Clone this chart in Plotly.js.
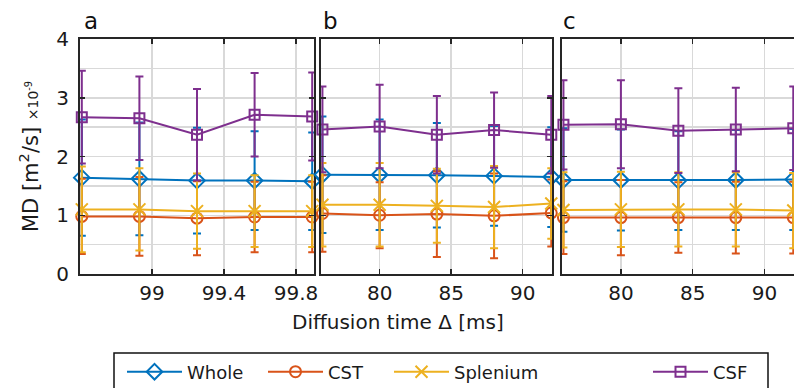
<!DOCTYPE html>
<html><head><meta charset="utf-8">
<script src="https://cdn.plot.ly/plotly-3.0.1.min.js"></script>
<style>html,body{margin:0;padding:0;background:#fff}</style>
</head><body><div id="chart" style="width:794px;height:388px"></div>
<script>
// ---- data ----
const seriesNames = ['Whole', 'CST', 'Splenium', 'CSF'];
const panelLabels = ['a', 'b', 'c'];

const deltaA = [98.61, 98.93, 99.25, 99.57, 99.89];
const deltaB = [76, 80, 84, 88, 92];
const deltaC = [76, 80, 84, 88, 92];

const tickValsA = [99, 99.4, 99.8];
const tickTextA = ['99', '99.4', '99.8'];
const tickValsBC = [80, 85, 90];
const tickTextBC = ['80', '85', '90'];

const wholeMeanA = [1.64, 1.62, 1.59, 1.59, 1.58];
const wholeSdA   = [0.99, 0.96, 0.90, 0.84, 0.83];
const wholeMeanB = [1.69, 1.69, 1.68, 1.67, 1.65];
const wholeSdB   = [0.99, 0.94, 0.89, 0.85, 0.85];
const wholeMeanC = [1.60, 1.60, 1.59, 1.60, 1.61];
const wholeSdC   = [0.88, 0.86, 0.84, 0.85, 0.86];

const cstMeanA = [0.98, 0.98, 0.95, 0.97, 0.97];
const cstSdA   = [0.64, 0.67, 0.63, 0.60, 0.60];
const cstMeanB = [1.03, 1.00, 1.02, 0.99, 1.04];
const cstSdB   = [0.65, 0.56, 0.73, 0.72, 0.57];
const cstMeanC = [0.96, 0.96, 0.96, 0.96, 0.96];
const cstSdC   = [0.62, 0.64, 0.60, 0.61, 0.61];

const splMeanA = [1.10, 1.10, 1.07, 1.07, 1.07];
const splSdA   = [0.73, 0.70, 0.64, 0.61, 0.61];
const splMeanB = [1.18, 1.18, 1.16, 1.14, 1.20];
const splSdB   = [0.71, 0.71, 0.63, 0.70, 0.60];
const splMeanC = [1.09, 1.10, 1.10, 1.10, 1.08];
const splSdC   = [0.64, 0.64, 0.63, 0.63, 0.64];

const csfMeanA = [2.67, 2.65, 2.37, 2.71, 2.68];
const csfSdA   = [0.79, 0.71, 0.78, 0.71, 0.75];
const csfMeanB = [2.46, 2.51, 2.37, 2.45, 2.37];
const csfSdB   = [0.73, 0.71, 0.66, 0.64, 0.66];
const csfMeanC = [2.54, 2.55, 2.44, 2.46, 2.48];
const csfSdC   = [0.76, 0.75, 0.72, 0.71, 0.71];

// ---- styling ----
const colors = ['#0072BD', '#D95319', '#EDB120', '#7E2F8E'];
const symbols = ['diamond-open', 'circle-open', 'x-thin-open', 'square-open'];
const markerSizes = [12, 11, 12, 10];

const deltas = [deltaA, deltaB, deltaC];
const means = [
  [wholeMeanA, wholeMeanB, wholeMeanC],
  [cstMeanA, cstMeanB, cstMeanC],
  [splMeanA, splMeanB, splMeanC],
  [csfMeanA, csfMeanB, csfMeanC]
];
const sds = [
  [wholeSdA, wholeSdB, wholeSdC],
  [cstSdA, cstSdB, cstSdC],
  [splSdA, splSdB, splSdC],
  [csfSdA, csfSdB, csfSdC]
];

const traces = [];
for (let p = 0; p < 3; p++) {
  for (let s = 0; s < 4; s++) {
    traces.push({
      type: 'scatter', mode: 'lines+markers',
      name: seriesNames[s],
      x: deltas[p], y: means[s][p],
      xaxis: p === 0 ? 'x' : 'x' + (p + 1),
      yaxis: p === 0 ? 'y' : 'y' + (p + 1),
      line: {color: colors[s], width: 2},
      marker: {symbol: symbols[s], size: markerSizes[s], color: colors[s], line: {color: colors[s], width: 2}},
      error_y: {type: 'data', array: sds[s][p], visible: true, color: colors[s], thickness: 2, width: 4},
      cliponaxis: false,
      showlegend: p === 0,
      legend: s === 0 ? 'legend' : 'legend' + (s + 1)
    });
  }
}

const W = 794, H = 388, L = 80, R = 0, T = 39, B = 114;
const pw = W - L - R, ph = H - T - B;
const px = v => (v - L) / pw;
const py = v => (H - B - v) / ph;

const axisLine = '#262626';
const gridCol = '#d9d9d9';
const font = 'DejaVu Sans, Arial, sans-serif';

function xax(domain, range, tv, tt) {
  return {
    domain: domain, range: range, tickvals: tv, ticktext: tt,
    showline: true, linecolor: axisLine, linewidth: 2, mirror: 'ticks',
    ticks: 'inside', ticklen: 5, tickwidth: 1.5, tickcolor: axisLine,
    showgrid: true, gridcolor: gridCol, gridwidth: 1.5, zeroline: false,
    tickfont: {size: 20, color: '#1a1a1a', family: font}
  };
}
function yax(anchor, labels, mirror) {
  return {
    anchor: anchor, range: [0, 4], tickvals: [0, 1, 2, 3, 4], showticklabels: labels,
    showline: true, linecolor: axisLine, linewidth: 2, mirror: mirror,
    ticks: 'inside', ticklen: 5, tickwidth: 1.5, tickcolor: axisLine,
    ticklabelstandoff: 5,
    showgrid: true, gridcolor: gridCol, gridwidth: 1.5, zeroline: false,
    minor: {dtick: 0.5, tick0: 0, showgrid: true, gridcolor: gridCol, gridwidth: 1.5, ticks: ''},
    tickfont: {size: 20, color: '#1a1a1a', family: font}
  };
}

const legendBase = {
  xref: 'container', yref: 'container', xanchor: 'left', yanchor: 'middle',
  y: 1 - 372 / H, orientation: 'h', bgcolor: 'rgba(0,0,0,0)', borderwidth: 0,
  itemwidth: 55,
  font: {size: 18, color: '#1a1a1a', family: font}
};

const layout = {
  width: W, height: H,
  margin: {l: L, r: R, t: T, b: B, pad: 0},
  paper_bgcolor: '#ffffff', plot_bgcolor: '#ffffff',
  font: {family: font, color: '#1a1a1a'},
  xaxis: xax([px(80), px(314)], [98.6, 99.9], tickValsA, tickTextA),
  xaxis2: xax([px(321), px(552)], [75.9, 92.05], tickValsBC, tickTextBC),
  xaxis3: xax([px(562), 1], [75.9, 92.05], tickValsBC, tickTextBC),
  yaxis: Object.assign(yax('x', true, 'ticks'), {
    title: {text: 'MD [m<sup>2</sup>/s] <span style="font-size:14px">×10<sup>-9</sup></span>',
            font: {size: 21, color: '#1a1a1a', family: font}, standoff: 12}
  }),
  yaxis2: yax('x2', false, 'ticks'),
  yaxis3: yax('x3', false, false),
  legend: Object.assign({}, legendBase, {x: 122 / W}),
  legend2: Object.assign({}, legendBase, {x: 263 / W}),
  legend3: Object.assign({}, legendBase, {x: 389 / W}),
  legend4: Object.assign({}, legendBase, {x: 648 / W}),
  annotations: [
    {text: panelLabels[0], xref: 'paper', yref: 'paper', x: px(82), y: py(21), xanchor: 'left', yanchor: 'middle', showarrow: false, font: {size: 23, family: font, color: '#111'}},
    {text: panelLabels[1], xref: 'paper', yref: 'paper', x: px(321), y: py(21), xanchor: 'left', yanchor: 'middle', showarrow: false, font: {size: 23, family: font, color: '#111'}},
    {text: panelLabels[2], xref: 'paper', yref: 'paper', x: px(561), y: py(21), xanchor: 'left', yanchor: 'middle', showarrow: false, font: {size: 23, family: font, color: '#111'}},
    {text: 'Diffusion time Δ [ms]', xref: 'paper', yref: 'paper', x: px(398), y: py(322), xanchor: 'center', yanchor: 'middle', showarrow: false, font: {size: 20, family: font, color: '#1a1a1a'}}
  ],
  shapes: [
    {type: 'rect', xref: 'paper', yref: 'paper', x0: px(114), x1: px(768), y0: py(398), y1: py(353),
     line: {color: '#111', width: 1.5}, fillcolor: 'rgba(0,0,0,0)'}
  ]
};

Plotly.newPlot('chart', traces, layout, {displayModeBar: false, staticPlot: true});
</script>
</body></html>
